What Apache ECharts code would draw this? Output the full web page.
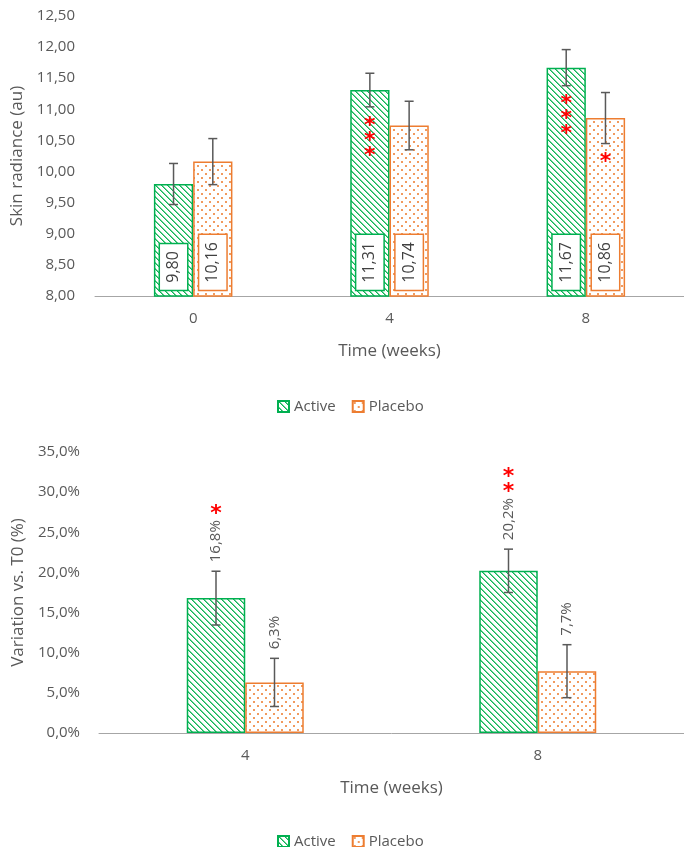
<!DOCTYPE html>
<html>
<head>
<meta charset="utf-8">
<script src="https://cdn.jsdelivr.net/npm/echarts@6/dist/echarts.min.js"></script>
<style>
  html, body { margin: 0; padding: 0; background: #fff; }
  #chart { width: 684px; height: 847px; }
</style>
</head>
<body>
<div id="chart"></div>
<script>
// Skin radiance (au) by week
const radianceWeeks = ['0', '4', '8'];
const radianceActive = [9.80, 11.31, 11.67];
const radianceActiveErr = [0.33, 0.27, 0.29];
const radiancePlacebo = [10.16, 10.74, 10.86];
const radiancePlaceboErr = [0.37, 0.39, 0.41];
const radianceActiveStars = [0, 3, 3];
const radiancePlaceboStars = [0, 0, 1];

// Variation vs. T0 (%) by week
const variationWeeks = ['4', '8'];
const variationActive = [16.8, 20.2];
const variationActiveErr = [3.35, 2.7];
const variationPlacebo = [6.3, 7.7];
const variationPlaceboErr = [3.0, 3.3];
const variationActiveStars = [1, 2];
const variationPlaceboStars = [0, 0];

const GREEN = '#00B050';
const ORANGE = '#ED7D31';
const TEXT = '#595959';
const FONT = '"Open Sans", sans-serif';

// Fill tiles: light downward diagonal hatch and staggered dots
function hatchTile() {
  const n = 6, c = document.createElement('canvas');
  c.width = n; c.height = n;
  const g = c.getContext('2d');
  g.fillStyle = '#fff'; g.fillRect(0, 0, n, n);
  for (let y = 0; y < n; y++) for (let x = 0; x < n; x++) {
    const d = (((x - y) % n) + n) % n;
    if (d === 0) { g.fillStyle = '#10B45A'; g.fillRect(x, y, 1, 1); }
    else if (d === 1) { g.fillStyle = '#6FD394'; g.fillRect(x, y, 1, 1); }
  }
  return c;
}
function dotTile() {
  const n = 8, c = document.createElement('canvas');
  c.width = n; c.height = n;
  const g = c.getContext('2d');
  g.fillStyle = '#fff'; g.fillRect(0, 0, n, n);
  g.fillStyle = '#F19A5E';
  g.fillRect(1, 1, 2, 2);
  g.fillRect(5, 5, 2, 2);
  return c;
}
const activeFill = { image: hatchTile(), repeat: 'repeat' };
const placeboFill = { image: dotTile(), repeat: 'repeat' };

const measureCtx = document.createElement('canvas').getContext('2d');
function textWidth(s, size) {
  measureCtx.font = size + 'px ' + FONT;
  return measureCtx.measureText(s).width;
}

const fmt2 = v => v.toFixed(2).replace('.', ',');
const fmtPct = v => v.toFixed(1).replace('.', ',') + '%';

function starText(x, y) {
  return {
    type: 'text', x: x, y: y + 4,
    style: { text: '*', fill: '#FF0000', font: 'bold 22px "DejaVu Sans", sans-serif', align: 'center', verticalAlign: 'middle' }
  };
}

// Error bar with significance marks; mode 'below' puts stars under the low whisker,
// mode 'above' writes the value label over the high whisker with stars on top.
function errorRenderer(side, values, stars, mode) {
  return function (params, api) {
    const cat = api.value(0);
    const lo = api.coord([cat, api.value(1)]);
    const hi = api.coord([cat, api.value(2)]);
    const band = api.size([1, 0])[0];
    const w = band * 0.2;
    const x = lo[0] + side * w / 2;
    const cap = 4.5;
    const ls = { stroke: '#595959', lineWidth: 1.5 };
    const children = [
      { type: 'line', shape: { x1: x, y1: lo[1], x2: x, y2: hi[1] }, style: ls },
      { type: 'line', shape: { x1: x - cap, y1: lo[1], x2: x + cap, y2: lo[1] }, style: ls },
      { type: 'line', shape: { x1: x - cap, y1: hi[1], x2: x + cap, y2: hi[1] }, style: ls }
    ];
    const n = stars[params.dataIndex];
    if (mode === 'below') {
      for (let k = 0; k < n; k++) children.push(starText(x, lo[1] + 15 + k * 15));
    } else {
      const label = fmtPct(values[params.dataIndex]);
      const base = hi[1] - 9;
      children.push({
        type: 'text', x: x, y: base, rotation: Math.PI / 2,
        style: { text: label, fill: TEXT, font: '15px ' + FONT, align: 'left', verticalAlign: 'middle' }
      });
      const top = base - textWidth(label, 15);
      for (let k = 0; k < n; k++) children.push(starText(x, top - 10 - k * 15));
    }
    return { type: 'group', children: children };
  };
}

function errData(vals, errs) {
  return vals.map((v, i) => [i, v - errs[i], v + errs[i]]);
}

const barLabel = color => ({
  show: true, position: 'insideBottom', rotate: 90, align: 'left', verticalAlign: 'middle',
  distance: 7, formatter: p => fmt2(p.value),
  color: '#404040', fontSize: 16, fontFamily: FONT, lineHeight: 17,
  backgroundColor: '#fff', borderColor: color, borderWidth: 1.5, padding: [5, 7, 5, 7]
});

const legendBase = {
  data: ['Active', 'Placebo'], icon: 'rect', itemWidth: 11, itemHeight: 11, itemGap: 16,
  textStyle: { color: TEXT, fontSize: 15, fontFamily: FONT }, selectedMode: false
};

const axisCommon = {
  axisLine: { show: true, lineStyle: { color: '#A6A6A6', width: 1 } },
  axisTick: { show: false },
  axisLabel: { color: TEXT, fontSize: 15, fontFamily: FONT, margin: 15 },
  nameLocation: 'middle', nameGap: 47,
  nameTextStyle: { color: TEXT, fontSize: 17, fontFamily: FONT }
};

const chart = echarts.init(document.getElementById('chart'), null, { renderer: 'canvas' });
chart.setOption({
  animation: false,
  backgroundColor: '#fff',
  legend: [
    Object.assign({ top: 394, left: 272 }, legendBase),
    Object.assign({ top: 829, left: 272 }, legendBase)
  ],
  grid: [
    { left: 95, right: -8, top: 16, height: 280 },
    { left: 99, right: -3, top: 452, height: 281 }
  ],
  xAxis: [
    Object.assign({ type: 'category', gridIndex: 0, data: radianceWeeks, name: 'Time (weeks)' }, axisCommon),
    Object.assign({ type: 'category', gridIndex: 1, data: variationWeeks, name: 'Time (weeks)' }, axisCommon)
  ],
  yAxis: [
    {
      type: 'value', gridIndex: 0, min: 8, max: 12.5, interval: 0.5,
      name: 'Skin radiance (au)', nameLocation: 'middle', nameGap: 66,
      nameTextStyle: { color: TEXT, fontSize: 17, fontFamily: FONT },
      axisLine: { show: false }, axisTick: { show: false }, splitLine: { show: false },
      axisLabel: { color: TEXT, fontSize: 15, fontFamily: FONT, margin: 20, formatter: v => fmt2(v) }
    },
    {
      type: 'value', gridIndex: 1, min: 0, max: 35, interval: 5,
      name: 'Variation vs. T0 (%)', nameLocation: 'middle', nameGap: 70,
      nameTextStyle: { color: TEXT, fontSize: 17, fontFamily: FONT },
      axisLine: { show: false }, axisTick: { show: false }, splitLine: { show: false },
      axisLabel: { color: TEXT, fontSize: 15, fontFamily: FONT, margin: 19, formatter: v => fmtPct(v) }
    }
  ],
  series: [
    {
      name: 'Active', type: 'bar', xAxisIndex: 0, yAxisIndex: 0, data: radianceActive,
      barWidth: '20%', barGap: '0%',
      itemStyle: { color: activeFill, borderColor: GREEN, borderWidth: 1.5 },
      label: barLabel(GREEN)
    },
    {
      name: 'Placebo', type: 'bar', xAxisIndex: 0, yAxisIndex: 0, data: radiancePlacebo,
      barWidth: '20%', barGap: '0%',
      itemStyle: { color: placeboFill, borderColor: ORANGE, borderWidth: 1.5 },
      label: barLabel(ORANGE)
    },
    {
      type: 'custom', xAxisIndex: 0, yAxisIndex: 0, z: 5,
      data: errData(radianceActive, radianceActiveErr), encode: { x: 0, y: [1, 2] },
      renderItem: errorRenderer(-1, radianceActive, radianceActiveStars, 'below')
    },
    {
      type: 'custom', xAxisIndex: 0, yAxisIndex: 0, z: 5,
      data: errData(radiancePlacebo, radiancePlaceboErr), encode: { x: 0, y: [1, 2] },
      renderItem: errorRenderer(1, radiancePlacebo, radiancePlaceboStars, 'below')
    },
    {
      name: 'Active', type: 'bar', xAxisIndex: 1, yAxisIndex: 1, data: variationActive,
      barWidth: '20%', barGap: '0%',
      itemStyle: { color: activeFill, borderColor: GREEN, borderWidth: 1.5 }
    },
    {
      name: 'Placebo', type: 'bar', xAxisIndex: 1, yAxisIndex: 1, data: variationPlacebo,
      barWidth: '20%', barGap: '0%',
      itemStyle: { color: placeboFill, borderColor: ORANGE, borderWidth: 1.5 }
    },
    {
      type: 'custom', xAxisIndex: 1, yAxisIndex: 1, z: 5,
      data: errData(variationActive, variationActiveErr), encode: { x: 0, y: [1, 2] },
      renderItem: errorRenderer(-1, variationActive, variationActiveStars, 'above')
    },
    {
      type: 'custom', xAxisIndex: 1, yAxisIndex: 1, z: 5,
      data: errData(variationPlacebo, variationPlaceboErr), encode: { x: 0, y: [1, 2] },
      renderItem: errorRenderer(1, variationPlacebo, variationPlaceboStars, 'above')
    }
  ]
});
</script>
</body>
</html>
